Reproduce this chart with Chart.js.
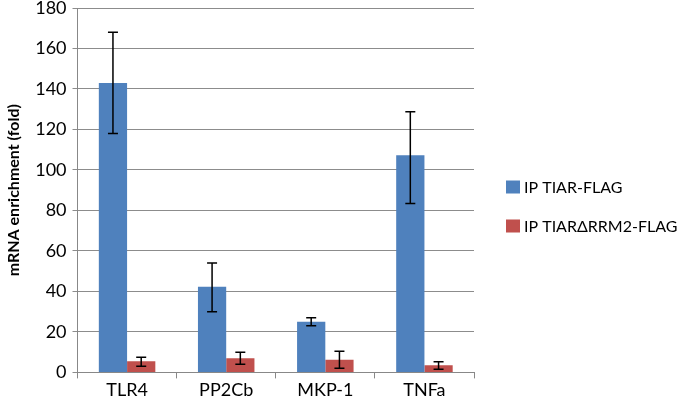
<!DOCTYPE html>
<html>
<head>
<meta charset="utf-8">
<script src="https://cdn.jsdelivr.net/npm/chart.js@4.4.1/dist/chart.umd.min.js"></script>
<style>
  html, body { margin: 0; padding: 0; background: #fff; }
  #wrap { width: 685px; height: 407px; }
</style>
</head>
<body>
<div id="wrap"><canvas id="chart" width="685" height="407"></canvas></div>
<script>
const genes = ['TLR4', 'PP2Cb', 'MKP-1', 'TNFa'];

const tiarValues = [143, 42.3, 25, 107.3];
const tiarLow = [118, 30, 23, 83.4];
const tiarHigh = [168, 54, 27, 128.7];

const deltaValues = [5.5, 7, 6.2, 3.5];
const deltaLow = [3, 4, 2, 1.5];
const deltaHigh = [7.5, 10, 10.5, 5.3];

const fontFamily = 'Lato, "Open Sans", sans-serif';

// draws the whisker for each bar from the low/high arrays
const errorBars = {
  id: 'errorBars',
  afterDatasetsDraw(chart) {
    const ctx = chart.ctx;
    const y = chart.scales.y;
    chart.data.datasets.forEach((ds, i) => {
      const meta = chart.getDatasetMeta(i);
      meta.data.forEach((bar, j) => {
        const top = y.getPixelForValue(ds.errHigh[j]);
        const bottom = y.getPixelForValue(ds.errLow[j]);
        ctx.save();
        ctx.strokeStyle = '#000';
        ctx.lineWidth = 1.5;
        ctx.beginPath();
        ctx.moveTo(bar.x, top);
        ctx.lineTo(bar.x, bottom);
        ctx.moveTo(bar.x - 5, top);
        ctx.lineTo(bar.x + 5, top);
        ctx.moveTo(bar.x - 5, bottom);
        ctx.lineTo(bar.x + 5, bottom);
        ctx.stroke();
        ctx.restore();
      });
    });
  }
};

// legend to the right of the plot, like the spreadsheet original
const sideLegend = {
  id: 'sideLegend',
  afterDraw(chart) {
    const ctx = chart.ctx;
    const area = chart.chartArea;
    const x0 = area.right + 32;
    const y0 = 187;
    ctx.save();
    ctx.font = '16px ' + fontFamily;
    ctx.textBaseline = 'middle';
    chart.data.datasets.forEach((ds, i) => {
      const cy = y0 + i * 39;
      ctx.fillStyle = ds.backgroundColor;
      ctx.fillRect(x0, cy - 6.5, 14, 13);
      ctx.fillStyle = '#000';
      ctx.fillText(ds.label, x0 + 18, cy + 1);
    });
    ctx.restore();
  }
};

new Chart(document.getElementById('chart'), {
  type: 'bar',
  data: {
    labels: genes,
    datasets: [{
      label: 'IP TIAR-FLAG',
      data: tiarValues,
      errLow: tiarLow,
      errHigh: tiarHigh,
      backgroundColor: '#4F81BD',
      barPercentage: 1,
      categoryPercentage: 0.57
    }, {
      label: 'IP TIAR\u0394RRM2-FLAG',
      data: deltaValues,
      errLow: deltaLow,
      errHigh: deltaHigh,
      backgroundColor: '#C0504D',
      barPercentage: 1,
      categoryPercentage: 0.57
    }]
  },
  options: {
    responsive: false,
    animation: false,
    layout: { padding: { top: 8, right: 211, bottom: 5, left: 4 } },
    plugins: {
      tooltip: { enabled: false },
      legend: { display: false }
    },
    scales: {
      x: {
        grid: {
          offset: true,
          drawOnChartArea: false,
          color: '#888',
          tickLength: 6
        },
        border: { color: '#888' },
        ticks: {
          color: '#000',
          padding: 1,
          font: { family: fontFamily, size: 18 }
        }
      },
      y: {
        min: 0,
        max: 180,
        afterFit(scale) {
          scale.paddingTop = 0;
          scale.paddingBottom = 0;
        },
        ticks: {
          stepSize: 20,
          color: '#000',
          padding: 6,
          font: { family: fontFamily, size: 18 }
        },
        grid: { color: '#8c8c8c', tickLength: 5 },
        border: { color: '#888' },
        title: {
          display: true,
          text: 'mRNA enrichment (fold)',
          color: '#000',
          padding: { top: 0, bottom: 6 },
          font: { family: fontFamily, size: 16, weight: 'bold' }
        }
      }
    }
  },
  plugins: [errorBars, sideLegend]
});
</script>
</body>
</html>
